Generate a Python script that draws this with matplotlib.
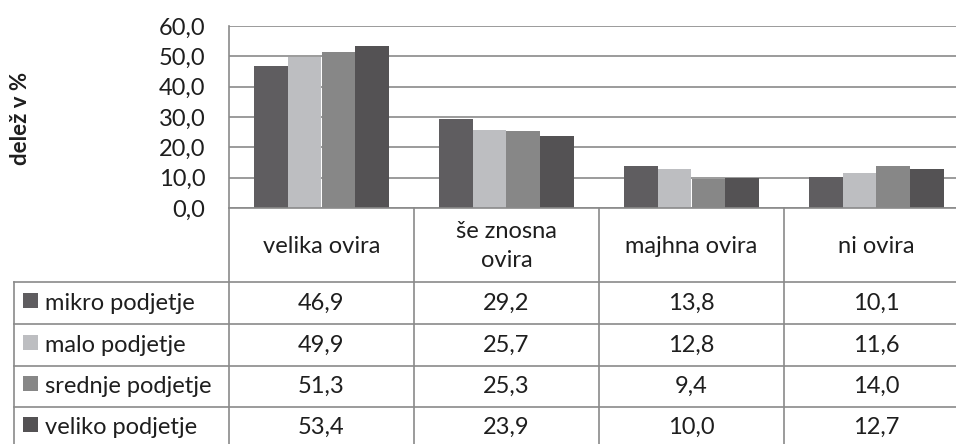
import matplotlib
matplotlib.use("Agg")
import matplotlib.pyplot as plt
from matplotlib.patches import Rectangle
import numpy as np

categories = ["velika ovira", "še znosna\novira", "majhna ovira", "ni ovira"]
series_names = ["mikro podjetje", "malo podjetje", "srednje podjetje", "veliko podjetje"]
mikro = [46.9, 29.2, 13.8, 10.1]
malo = [49.9, 25.7, 12.8, 11.6]
srednje = [51.3, 25.3, 9.4, 14.0]
veliko = [53.4, 23.9, 10.0, 12.7]
series_values = [mikro, malo, srednje, veliko]
yticks = [0, 10, 20, 30, 40, 50, 60]
ylabel = "delež v %"

colors = ["#5f5d60", "#bdbec1", "#878787", "#545254"]
grid_c = "#8a8a8a"
txt_c = "#1e1e1e"
FONT = "Lato"
FS = 17
plt.rcParams['font.family'] = [FONT, 'DejaVu Sans']

W, H = 956, 444
fig = plt.figure(figsize=(W / 100, H / 100), dpi=100)

def fx(px):
    return px / W

def fy(py):
    return 1 - py / H

# plot area in pixels
L, R, T, B = 229, 969, 26, 208
ax = fig.add_axes([fx(L), fy(B), fx(R - L), (B - T) / H])
ax.set_xlim(0, len(categories))
ax.set_ylim(0, 60)
bw = 0.182
n = len(series_values)
x = np.arange(len(categories)) + 0.5
for i, (vals, c) in enumerate(zip(series_values, colors)):
    ax.bar(x + (i - (n - 1) / 2) * bw, vals, width=bw, color=c, zorder=3, linewidth=0)
ax.set_yticks(yticks)
ax.set_yticklabels([f"{v:.1f}".replace(".", ",") for v in yticks], fontsize=FS, color=txt_c)
ax.tick_params(axis='y', length=0, pad=17)
ax.tick_params(axis='x', length=0, labelbottom=False)
ax.grid(axis='y', color=grid_c, linewidth=1.2, zorder=0)
for s in ["top", "right", "bottom"]:
    ax.spines[s].set_visible(False)
ax.spines["left"].set_color(grid_c)
ax.spines["left"].set_linewidth(1.2)
ax.set_xticks([])

# overlay axes for table in pixel coordinates
ov = fig.add_axes([0, 0, 1, 1], zorder=5)
ov.set_xlim(0, W)
ov.set_ylim(H, 0)
ov.axis("off")
ov.patch.set_alpha(0)

col_edges = [L + k * (R - L) / len(categories) for k in range(len(categories) + 1)]
row_edges = [208, 282, 324, 366, 407, 449]
legend_left = 14
lw = 1.2
# horizontal lines
ov.plot([L, W + 20], [208, 208], color=grid_c, lw=lw)
for yy in row_edges[1:-1]:
    ov.plot([legend_left, W + 20], [yy, yy], color=grid_c, lw=lw)
# vertical lines
for xx in col_edges[:-1]:
    ov.plot([xx, xx], [208, H + 10], color=grid_c, lw=lw)
ov.plot([legend_left, legend_left], [282, H + 10], color=grid_c, lw=lw)

# header texts
for k, cat in enumerate(categories):
    cx = (col_edges[k] + col_edges[k + 1]) / 2
    ov.text(cx, 246, cat, ha="center", va="center", fontsize=FS, color=txt_c,
            linespacing=1.5)

row_centers = [303, 345, 386, 427]
for r, (name, vals, c) in enumerate(zip(series_names, series_values, colors)):
    cy = row_centers[r]
    ov.add_patch(Rectangle((23, cy - 10), 15, 15, facecolor=c, edgecolor="none"))
    ov.text(45, cy, name, ha="left", va="center", fontsize=FS, color=txt_c)
    for k, v in enumerate(vals):
        cx = (col_edges[k] + col_edges[k + 1]) / 2
        ov.text(cx, cy, f"{v:.1f}".replace(".", ","), ha="center", va="center",
                fontsize=FS, color=txt_c)

fig.text(fx(21), fy(118), ylabel, rotation=90, ha="center", va="center",
         fontsize=16, fontweight="bold", color=txt_c)

fig.savefig("out.png", dpi=100)
